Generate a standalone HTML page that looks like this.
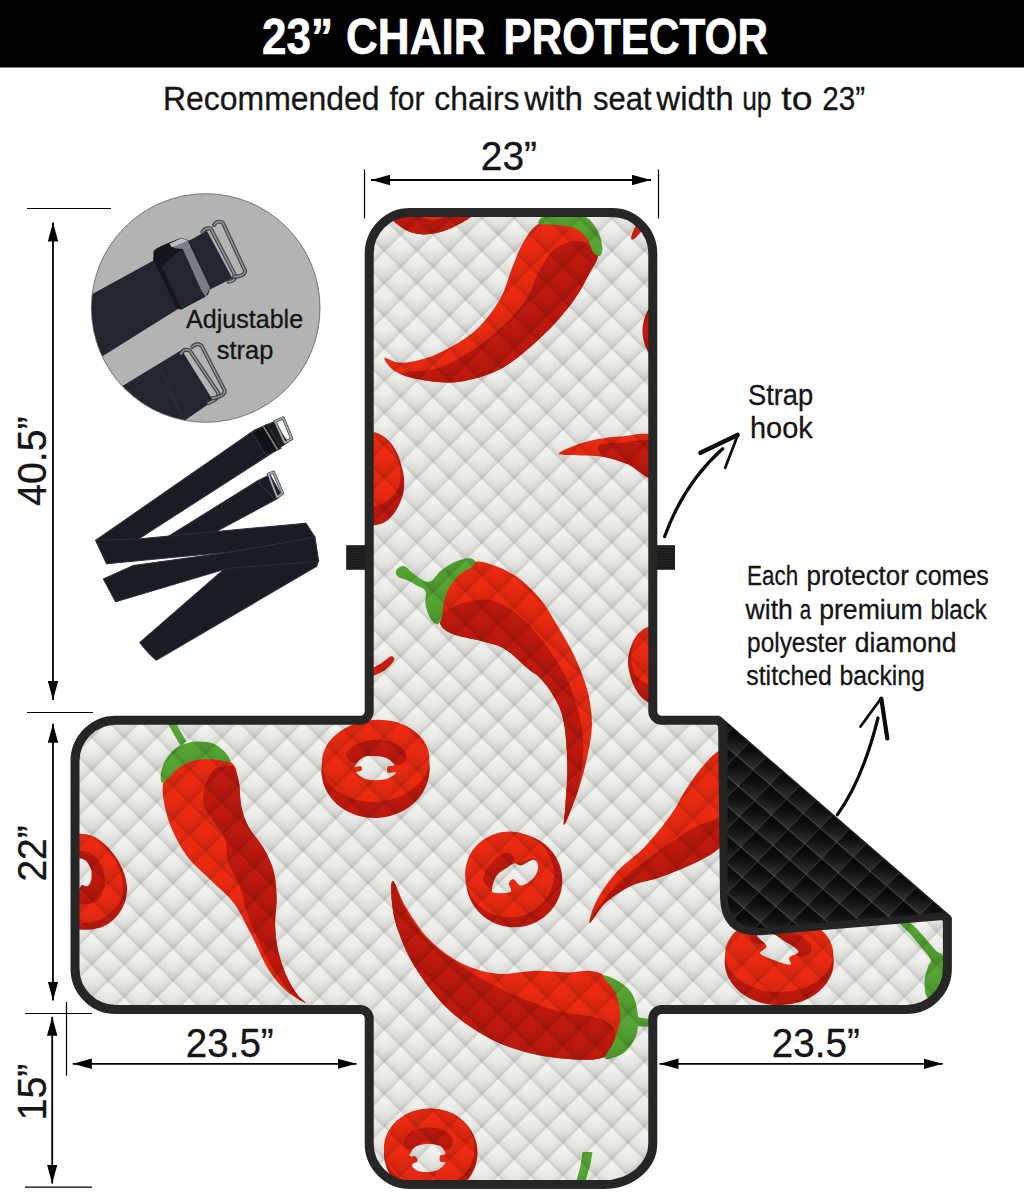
<!DOCTYPE html>
<html><head><meta charset="utf-8"><title>23" Chair Protector</title>
<style>
html,body{margin:0;padding:0;background:#fff}
svg{display:block}
text{font-family:"Liberation Sans",sans-serif;fill:#151515;stroke:#151515;stroke-width:0.3px}
</style></head><body>
<svg width="1024" height="1200" viewBox="0 0 1024 1200">
<defs>
<linearGradient id="qa" x1="0.25" y1="0.25" x2="0.75" y2="0.75"><stop offset="0" stop-color="#000" stop-opacity="0"/>
<stop offset="0.35" stop-color="#000" stop-opacity="0.012"/>
<stop offset="0.6" stop-color="#000" stop-opacity="0.032"/>
<stop offset="0.82" stop-color="#000" stop-opacity="0.066"/>
<stop offset="1" stop-color="#000" stop-opacity="0.15"/></linearGradient>
<linearGradient id="qb" x1="0.75" y1="0.25" x2="0.25" y2="0.75"><stop offset="0" stop-color="#000" stop-opacity="0"/>
<stop offset="0.35" stop-color="#000" stop-opacity="0.012"/>
<stop offset="0.6" stop-color="#000" stop-opacity="0.032"/>
<stop offset="0.82" stop-color="#000" stop-opacity="0.066"/>
<stop offset="1" stop-color="#000" stop-opacity="0.15"/></linearGradient>
<pattern id="quilt" x="400.55" y="252.5" width="32.5" height="32.5" patternUnits="userSpaceOnUse" patternTransform="scale(1 0.998)">
<g fill="url(#qa)"><path d="M16.25,0 L32.5,16.25 L16.25,32.5 L0,16.25Z"/><path d="M0,-16.25 L16.25,0 L0,16.25 L-16.25,0Z"/><path d="M32.5,-16.25 L48.75,0 L32.5,16.25 L16.25,0Z"/><path d="M0,16.25 L16.25,32.5 L0,48.75 L-16.25,32.5Z"/><path d="M32.5,16.25 L48.75,32.5 L32.5,48.75 L16.25,32.5Z"/></g>
<g fill="url(#qb)"><path d="M16.25,0 L32.5,16.25 L16.25,32.5 L0,16.25Z"/><path d="M0,-16.25 L16.25,0 L0,16.25 L-16.25,0Z"/><path d="M32.5,-16.25 L48.75,0 L32.5,16.25 L16.25,0Z"/><path d="M0,16.25 L16.25,32.5 L0,48.75 L-16.25,32.5Z"/><path d="M32.5,16.25 L48.75,32.5 L32.5,48.75 L16.25,32.5Z"/></g>
</pattern>
<linearGradient id="bg" x1="0.6" y1="0" x2="0.4" y2="1">
<stop offset="0" stop-color="#030303"/>
<stop offset="0.45" stop-color="#101010"/>
<stop offset="1" stop-color="#343434"/>
</linearGradient>
<pattern id="bquilt" x="755.4" y="814.9" width="32.0" height="30.5" patternUnits="userSpaceOnUse" patternTransform="rotate(-2.7 771.4 814.9)">
<rect width="32.0" height="30.5" fill="#0a0a0a"/>
<g fill="url(#bg)">
<path d="M16.0,0 L32.0,15.25 L16.0,30.5 L0,15.25Z"/>
<path d="M0,-15.25 L16.0,0 L0,15.25 L-16.0,0Z"/>
<path d="M32.0,-15.25 L48.0,0 L32.0,15.25 L16.0,0Z"/>
<path d="M0,15.25 L16.0,30.5 L0,45.75 L-16.0,30.5Z"/>
<path d="M32.0,15.25 L48.0,30.5 L32.0,45.75 L16.0,30.5Z"/>
</g>
<path d="M-16.0,0 L32.0,45.75 M0,-15.25 L48.0,30.5" stroke="#666" stroke-width="0.9" fill="none"/>
<path d="M32.0,-15.25 L-16.0,30.5 M48.0,0 L0,45.75" stroke="#484848" stroke-width="0.8" fill="none"/>
</pattern>
<clipPath id="cov"><path d="M369.2,253.6 A41,41 0 0 1 410.2,212.6 L611.8,212.6 A41,41 0 0 1 652.8,253.6 L652.8,711.2 A9,9 0 0 0 661.8,720.2 L718.0,720.2 L947.4,919.0 L947.4,968.5 A41,41 0 0 1 906.4,1009.5 L661.8,1009.5 A9,9 0 0 0 652.8,1018.5 L652.8,1143.6 A49,41 0 0 1 603.8,1184.6 L410.2,1184.6 A41,41 0 0 1 369.2,1143.6 L369.2,1018.5 A9,9 0 0 0 360.2,1009.5 L116.0,1009.5 A41,41 0 0 1 75.0,968.5 L75.0,761.2 A41,41 0 0 1 116.0,720.2 L360.2,720.2 A9,9 0 0 0 369.2,711.2 Z"/></clipPath>
<clipPath id="circ"><circle cx="205.7" cy="308" r="114"/></clipPath>
<marker id="ah" markerWidth="19" markerHeight="11" refX="19" refY="5.5" orient="auto-start-reverse" markerUnits="userSpaceOnUse"><path d="M0,0.3 L19,5.5 L0,10.7Z" fill="#000"/></marker>
</defs>
<rect x="0" y="0" width="1024" height="67.5" fill="#000"/>
<text x="262" y="54.3" font-size="49.5" textLength="71" lengthAdjust="spacingAndGlyphs" font-weight="700" style="fill:#fff;stroke:#fff;stroke-width:0.7">23”</text>
<text x="346" y="54.3" font-size="49.5" textLength="139.5" lengthAdjust="spacingAndGlyphs" font-weight="700" style="fill:#fff;stroke:#fff;stroke-width:0.7">CHAIR</text>
<text x="503.5" y="54.3" font-size="49.5" textLength="264.5" lengthAdjust="spacingAndGlyphs" font-weight="700" style="fill:#fff;stroke:#fff;stroke-width:0.7">PROTECTOR</text>
<text x="163" y="109.9" font-size="33" textLength="216.5" lengthAdjust="spacingAndGlyphs" >Recommended</text>
<text x="389.5" y="109.9" font-size="33" textLength="35.0" lengthAdjust="spacingAndGlyphs" >for</text>
<text x="434.3" y="109.9" font-size="33" textLength="85.2" lengthAdjust="spacingAndGlyphs" >chairs</text>
<text x="524.2" y="109.9" font-size="33" textLength="58.8" lengthAdjust="spacingAndGlyphs" >with</text>
<text x="593" y="109.9" font-size="33" textLength="58.6" lengthAdjust="spacingAndGlyphs" >seat</text>
<text x="656.3" y="109.9" font-size="33" textLength="77.3" lengthAdjust="spacingAndGlyphs" >width</text>
<text x="742.2" y="109.9" font-size="33" textLength="29.3" lengthAdjust="spacingAndGlyphs" >up</text>
<text x="781.3" y="109.9" font-size="33" textLength="31.2" lengthAdjust="spacingAndGlyphs" >to</text>
<text x="822.3" y="109.9" font-size="33" textLength="42.9" lengthAdjust="spacingAndGlyphs" >23”</text>
<g clip-path="url(#cov)">
<rect x="60" y="200" width="900" height="1000" fill="#f3f3ef"/>
<clipPath id="pc1"><path d="M393.3,210.9 C381.6,213.7 396.6,223.4 401.5,227.3 C406.4,231.2 414.7,234.1 422.6,234.4 C430.5,234.7 440.8,233 449,229.1 C457.2,225.2 481.1,214 471.8,210.9 C462.5,207.9 405,208.2 393.3,210.9Z"/></clipPath>
<path d="M393.3,210.9 C381.6,213.7 396.6,223.4 401.5,227.3 C406.4,231.2 414.7,234.1 422.6,234.4 C430.5,234.7 440.8,233 449,229.1 C457.2,225.2 481.1,214 471.8,210.9 C462.5,207.9 405,208.2 393.3,210.9Z" fill="#f02b12" />
<g clip-path="url(#pc1)"><path d="M390.4,208 C396.7,204.6 420.2,219.2 431.4,219.7 C442.6,220.2 449.5,212.9 457.8,210.9 C466.1,209 478.3,203.6 481.2,208 C484.1,212.4 490,231.9 475.3,237.3 C460.7,242.7 407.5,245.1 393.3,240.2 C379.1,235.3 384,211.4 390.4,208Z" fill="#c21a0e" /></g>
<clipPath id="pc2"><path d="M384.5,358 C385.5,356.5 393.3,363.4 402.1,362.7 C410.9,362 425,359.3 437.2,353.9 C449.5,348.5 464.8,339.7 475.3,330.5 C485.8,321.3 494.1,309.2 500.2,298.8 C506.3,288.4 508.1,277.6 512,268.1 C515.9,258.5 519,249.2 523.7,241.7 C528.3,234.2 532.2,226.9 539.8,223.2 C547.4,219.6 559.8,217.6 569.1,219.7 C578.4,221.8 590.6,230 595.5,235.8 C600.4,241.7 599.4,248.7 598.4,254.9 C597.4,261.1 593.8,265.3 589.6,273 C585.4,280.8 580.8,290.9 573.2,301.2 C565.6,311.4 555.6,323.5 543.9,334.6 C532.2,345.7 517,359.8 502.9,367.7 C488.8,375.5 472.6,379.7 459.2,381.7 C445.8,383.8 433.1,381.6 422.6,380 C412.1,378.4 402.6,375.7 396.2,372.1 C389.9,368.4 383.5,359.6 384.5,358Z"/></clipPath>
<path d="M384.5,358 C385.5,356.5 393.3,363.4 402.1,362.7 C410.9,362 425,359.3 437.2,353.9 C449.5,348.5 464.8,339.7 475.3,330.5 C485.8,321.3 494.1,309.2 500.2,298.8 C506.3,288.4 508.1,277.6 512,268.1 C515.9,258.5 519,249.2 523.7,241.7 C528.3,234.2 532.2,226.9 539.8,223.2 C547.4,219.6 559.8,217.6 569.1,219.7 C578.4,221.8 590.6,230 595.5,235.8 C600.4,241.7 599.4,248.7 598.4,254.9 C597.4,261.1 593.8,265.3 589.6,273 C585.4,280.8 580.8,290.9 573.2,301.2 C565.6,311.4 555.6,323.5 543.9,334.6 C532.2,345.7 517,359.8 502.9,367.7 C488.8,375.5 472.6,379.7 459.2,381.7 C445.8,383.8 433.1,381.6 422.6,380 C412.1,378.4 402.6,375.7 396.2,372.1 C389.9,368.4 383.5,359.6 384.5,358Z" fill="#f02b12" />
<g clip-path="url(#pc2)"><path d="M569.1,242 C563.2,243.5 556.9,246.4 551.5,251.9 C546.1,257.5 540.8,268.1 536.9,275.4 C533,282.7 532.5,288.6 528.1,295.9 C523.7,303.2 517.3,312 510.5,319.3 C503.7,326.7 495.4,333.5 487.1,339.8 C478.8,346.2 469.5,352.5 460.7,357.4 C451.9,362.3 443.1,366.7 434.3,369.1 C425.5,371.6 414.3,370.6 407.9,372.1 C401.6,373.5 387.9,374.8 396.2,377.9 C404.5,381.1 439.2,391.6 457.8,391.1 C476.3,390.6 491,384 507.6,375 C524.2,366 544.2,350.1 557.4,336.9 C570.6,323.7 578.4,309.1 586.7,295.9 C595,282.7 607.2,266.6 607.2,257.8 C607.2,249 593,245.8 586.7,243.2 C580.3,240.5 575,240.5 569.1,242Z" fill="#c21a0e" /></g>
<path d="M538.6,223.8 C537.4,222.2 540.1,216.5 547.1,215 C554.2,213.6 572.7,212.9 580.8,215 C589,217.2 592.5,222.8 596.1,227.9 C599.6,233 601.5,240.9 602.2,245.5 C602.9,250.1 601.7,254.7 600.2,255.8 C598.6,256.8 595.5,255 593.1,251.9 C590.8,248.9 589.2,241.3 586.1,237.3 C583,233.3 579.6,230 574.4,227.9 C569.1,225.8 560.4,225.4 554.4,224.7 C548.5,224 539.8,225.4 538.6,223.8Z" fill="#57a834" />
<path d="M631.2,239.1 C630.8,238 631.6,234.3 633,231.4 C634.3,228.6 636.1,225.2 639.4,222.1 C642.7,218.9 650.2,212.4 652.6,212.4 C655,212.4 655.7,219.1 654.1,222.1 C652.5,225 646.1,227.6 642.9,230.3 C639.8,232.9 637.3,236.4 635.3,237.9 C633.4,239.4 631.6,240.1 631.2,239.1Z" fill="#d9200f" />
<path d="M652,304.5 C651.1,305.9 648,309.9 646.5,313 C645,316.1 644,319.8 643.3,323 C642.6,326.2 642.4,328.8 642.5,332 C642.6,335.2 643.2,339 644,342 C644.8,345 645.7,347.5 647,350 C648.3,352.5 651.2,355.8 652,357 L665,357 L665,304.5Z" fill="#c21a0e" />
<path d="M368,432.5 C369.7,432.7 374.7,432.2 378,433.5 C381.3,434.8 385,437.1 388,440 C391,442.9 393.8,447 396,451 C398.2,455 399.7,459.5 401,464 C402.3,468.5 403.6,473.3 404,478 C404.4,482.7 404.3,487.5 403.5,492 C402.7,496.5 400.9,501 399,505 C397.1,509 394.7,513 392,516 C389.3,519 387,521.2 383,523 C379,524.8 370.5,525.9 368,526.5 L355,526.5 L355,432.5Z" fill="#c21a0e" />
<path d="M368,432.5 C369.7,432.7 374.8,432.2 378,433.5 C381.2,434.8 384.3,437.2 387,440 C389.7,442.8 392.1,446.3 394,450 C395.9,453.7 397.4,458 398.5,462 C399.6,466 400.4,470 400.5,474 C400.6,478 400.2,482.3 399,486 C397.8,489.7 395.5,493.2 393,496 C390.5,498.8 388.2,501 384,503 C379.8,505 370.7,507.2 368,508 L355,508 L355,432.5Z" fill="#f02b12" />
<clipPath id="pc3"><path d="M558.8,454 C557.9,452.3 568.4,448 575,445.5 C581.6,443 590.6,440.6 598.4,439.1 C606.2,437.5 612.6,436.7 621.8,436.4 C631.1,436.1 648.7,430.3 654.1,437.3 C659.4,444.3 658.5,473.8 654.1,478.3 C649.7,482.8 636,467.8 627.7,464.3 C619.4,460.7 612.1,458.4 604.3,456.9 C596.4,455.5 588.4,456 580.8,455.5 C573.2,455 559.8,455.7 558.8,454Z"/></clipPath>
<path d="M558.8,454 C557.9,452.3 568.4,448 575,445.5 C581.6,443 590.6,440.6 598.4,439.1 C606.2,437.5 612.6,436.7 621.8,436.4 C631.1,436.1 648.7,430.3 654.1,437.3 C659.4,444.3 658.5,473.8 654.1,478.3 C649.7,482.8 636,467.8 627.7,464.3 C619.4,460.7 612.1,458.4 604.3,456.9 C596.4,455.5 588.4,456 580.8,455.5 C573.2,455 559.8,455.7 558.8,454Z" fill="#f02b12" />
<g clip-path="url(#pc3)"><path d="M598.4,445.5 C601.3,443.1 612.6,443 621.8,442.6 C631.1,442.2 648.7,437.2 654.1,443.2 C659.4,449.1 658.5,474.8 654.1,478.3 C649.7,481.8 636,467.8 627.7,464.3 C619.4,460.7 609.1,460.1 604.3,456.9 C599.4,453.8 595.5,447.9 598.4,445.5Z" fill="#c21a0e" /></g>
<clipPath id="pc4"><path d="M440.8,598.6 C442.8,590.8 446.6,581.3 451.9,575.2 C457.2,569.1 465.6,563.7 472.4,562 C479.2,560.3 485.6,562.5 492.9,564.9 C500.2,567.3 508.5,571 516.4,576.6 C524.2,582.2 532.7,590.1 539.8,598.6 C546.9,607.1 553.2,618.6 558.8,627.9 C564.5,637.2 569.2,645.5 573.5,654.3 C577.7,663.1 581.6,672.3 584.3,680.6 C587.1,688.9 589,695.3 590.2,704.1 C591.4,712.9 592.7,721.2 591.4,733.4 C590,745.6 585.9,764 582.3,777.3 C578.7,790.6 572.8,805.2 569.7,813.1 C566.6,821 564.6,825.8 563.8,824.8 C563.1,823.8 564.7,817.5 565.3,807.2 C565.9,797 567.7,777.9 567.3,763.3 C567,748.6 565.6,730.6 563.2,719.3 C560.8,708 556.9,702.2 553,695.3 C549.1,688.4 543.9,682.1 539.8,677.7 C535.6,673.3 533.9,673.7 528.1,668.9 C522.2,664.1 512.5,653.6 504.6,649 C496.8,644.4 490,643.6 481.2,641.1 C472.4,638.5 458.8,636.9 451.9,633.8 C445,630.6 441.4,627.9 439.6,622 C437.7,616.2 438.7,606.4 440.8,598.6Z"/></clipPath>
<path d="M440.8,598.6 C442.8,590.8 446.6,581.3 451.9,575.2 C457.2,569.1 465.6,563.7 472.4,562 C479.2,560.3 485.6,562.5 492.9,564.9 C500.2,567.3 508.5,571 516.4,576.6 C524.2,582.2 532.7,590.1 539.8,598.6 C546.9,607.1 553.2,618.6 558.8,627.9 C564.5,637.2 569.2,645.5 573.5,654.3 C577.7,663.1 581.6,672.3 584.3,680.6 C587.1,688.9 589,695.3 590.2,704.1 C591.4,712.9 592.7,721.2 591.4,733.4 C590,745.6 585.9,764 582.3,777.3 C578.7,790.6 572.8,805.2 569.7,813.1 C566.6,821 564.6,825.8 563.8,824.8 C563.1,823.8 564.7,817.5 565.3,807.2 C565.9,797 567.7,777.9 567.3,763.3 C567,748.6 565.6,730.6 563.2,719.3 C560.8,708 556.9,702.2 553,695.3 C549.1,688.4 543.9,682.1 539.8,677.7 C535.6,673.3 533.9,673.7 528.1,668.9 C522.2,664.1 512.5,653.6 504.6,649 C496.8,644.4 490,643.6 481.2,641.1 C472.4,638.5 458.8,636.9 451.9,633.8 C445,630.6 441.4,627.9 439.6,622 C437.7,616.2 438.7,606.4 440.8,598.6Z" fill="#f02b12" />
<g clip-path="url(#pc4)"><path d="M449,609.1 C454.3,605.3 459.7,603.6 466.5,602.1 C473.4,600.6 481.7,598.2 490,600.1 C498.3,601.9 507.6,606.4 516.4,613.2 C525.1,620.1 534.4,630.3 542.7,641.1 C551,651.8 560.1,665.3 566.2,677.7 C572.3,690.2 576.5,703.6 579.4,715.8 C582.2,728 583.3,738.7 583.2,751 C583,763.2 580.8,778.3 578.5,789 C576.1,799.8 571.5,809.5 569.1,815.4 C566.7,821.4 565.8,826.2 563.8,824.8 C561.9,823.4 558.5,817.5 557.4,807.2 C556.3,797 557.9,777.9 557.4,763.3 C556.9,748.6 556.4,730.6 554.4,719.3 C552.5,708 550.1,703.7 545.7,695.3 C541.3,686.9 534.9,675.8 528.1,668.9 C521.2,662.1 512.5,658.2 504.6,654.3 C496.8,650.4 490.5,647.9 481.2,645.5 C471.9,643 456.8,643 449,639.6 C441.2,636.2 434.3,630 434.3,625 C434.3,619.9 443.6,613 449,609.1Z" fill="#c21a0e" /></g>
<path d="M395.6,572.8 C395.5,571.2 397,568.9 398.6,567.8 C400.1,566.8 402.7,565.5 405,566.4 C407.3,567.2 409.2,570.4 412.3,572.8 C415.5,575.3 420.8,579.7 424.1,581 C427.3,582.3 429.2,582.1 432,580.4 C434.8,578.7 437,573.8 440.8,570.8 C444.6,567.7 450.3,564.1 454.8,562 C459.4,559.9 464.7,558.4 468,558.2 C471.3,557.9 474,559.1 474.8,560.5 C475.5,561.9 474.8,564.2 472.4,566.4 C470.1,568.6 464.5,570.3 460.7,573.7 C456.9,577.1 452.4,582 449.6,586.9 C446.7,591.8 445,597.6 443.7,603 C442.4,608.4 442.8,615.5 441.6,619.1 C440.5,622.7 438.6,624.6 436.7,624.4 C434.7,624.1 431.8,621 429.9,617.6 C428.1,614.3 426.3,608.9 425.5,604.5 C424.8,600.1 426.8,594.3 425.5,591.3 C424.3,588.2 421.1,588.1 418.2,586.3 C415.3,584.5 411.1,581.9 407.9,580.4 C404.8,579 401.2,578.8 399.2,577.5 C397.1,576.2 395.7,574.4 395.6,572.8Z" fill="#57a834" />
<path d="M368.4,671.3 C370.6,668.9 377.9,665.5 381.6,663.1 C385.2,660.6 388.3,657.5 390.4,656.6 C392.4,655.7 393.4,657 393.9,657.8 C394.4,658.6 394.9,659.5 393.3,661.6 C391.7,663.7 388.7,667.8 384.5,670.4 C380.4,673 371.1,677 368.4,677.1 C365.7,677.3 366.2,673.6 368.4,671.3Z" fill="#d9200f" />
<path d="M652,626 C650.7,626.5 646.7,627.2 644,629 C641.3,630.8 638.2,633.3 636,636.5 C633.8,639.7 631.8,644.1 630.5,648 C629.2,651.9 628.2,655.8 628,660 C627.8,664.2 628.5,668.7 629.5,673 C630.5,677.3 632.1,682 634,686 C635.9,690 638,693.8 641,697 C644,700.2 650.2,703.7 652,705 L665,705 L665,626Z" fill="#c21a0e" />
<path d="M652,626 C650.7,626.5 646.5,627.2 644,629 C641.5,630.8 638.9,633.5 637,636.5 C635.1,639.5 633.5,643.4 632.5,647 C631.5,650.6 630.9,654.3 631,658 C631.1,661.7 631.7,665.5 633,669 C634.3,672.5 635.8,676.2 639,679 C642.2,681.8 649.8,684.8 652,686 L665,686 L665,626Z" fill="#f02b12" />
<clipPath id="pc5"><path d="M589.7,922.9 C588.3,922.5 592.3,908.8 596.8,900.3 C601.3,891.8 608.6,880.9 616.7,872 C624.7,863 636,855.9 645,846.5 C654,837 663.4,825.2 670.5,815.3 C677.6,805.4 681.8,795.5 687.5,787 C693.1,778.5 698.8,770.7 704.5,764.3 C710.1,757.9 712.5,754.9 721.5,748.7 C730.4,742.6 749.3,719.2 758.3,727.5 C767.3,735.7 775.3,780.8 775.3,798.3 C775.3,815.8 767,824.3 758.3,832.3 C749.6,840.3 730.9,842.7 722.9,846.5 C714.9,850.2 716,851.7 710.1,855 C704.2,858.3 696,862.5 687.5,866.3 C679,870.1 668.6,874.3 659.2,877.6 C649.7,880.9 639.8,881.9 630.8,886.1 C621.9,890.4 612.2,897 605.3,903.1 C598.5,909.3 591.2,923.4 589.7,922.9Z"/></clipPath>
<path d="M589.7,922.9 C588.3,922.5 592.3,908.8 596.8,900.3 C601.3,891.8 608.6,880.9 616.7,872 C624.7,863 636,855.9 645,846.5 C654,837 663.4,825.2 670.5,815.3 C677.6,805.4 681.8,795.5 687.5,787 C693.1,778.5 698.8,770.7 704.5,764.3 C710.1,757.9 712.5,754.9 721.5,748.7 C730.4,742.6 749.3,719.2 758.3,727.5 C767.3,735.7 775.3,780.8 775.3,798.3 C775.3,815.8 767,824.3 758.3,832.3 C749.6,840.3 730.9,842.7 722.9,846.5 C714.9,850.2 716,851.7 710.1,855 C704.2,858.3 696,862.5 687.5,866.3 C679,870.1 668.6,874.3 659.2,877.6 C649.7,880.9 639.8,881.9 630.8,886.1 C621.9,890.4 612.2,897 605.3,903.1 C598.5,909.3 591.2,923.4 589.7,922.9Z" fill="#f02b12" />
<g clip-path="url(#pc5)"><path d="M735.6,804 C728.1,800.7 725.3,814.4 718.6,818.1 C712,821.9 703.5,822.9 696,826.6 C688.4,830.4 680.4,836.1 673.3,840.8 C666.2,845.5 660.6,849.8 653.5,855 C646.4,860.2 638.4,865.3 630.8,872 C623.3,878.6 615,886.1 608.2,894.6 C601.3,903.1 588.3,921.1 589.7,922.9 C591.2,924.8 605.1,912.6 616.7,905.9 C628.2,899.3 643.6,890.8 659.2,883.3 C674.7,875.7 692.7,868.2 710.1,860.6 C727.6,853.1 759.7,847.4 764,838 C768.2,828.5 743.2,807.3 735.6,804Z" fill="#c21a0e" /></g>
<ellipse cx="375.6" cy="769.7" rx="54.2" ry="48.3" fill="#c21a0e" transform="rotate(-5 375.6 769.7)"/>
<ellipse cx="375.6" cy="760.9" rx="53.9" ry="41" fill="#f02b12" transform="rotate(-5 375.6 760.9)"/>
<path d="M346.3,753.9 C347,750.6 352.6,745.7 358.6,743.3 C364.6,741 375,739.2 382,739.8 C389.1,740.4 397.1,744 401.1,747.1 C405.1,750.3 406.8,755.9 406.1,758.9 C405.3,761.8 401.9,764.7 396.7,764.7 C391.5,764.7 381.8,759.1 374.7,758.9 C367.6,758.6 358.9,764.1 354.2,763.2 C349.5,762.4 345.6,757.2 346.3,753.9Z" fill="#c21a0e" />
<path d="M354.5,766.8 C354.8,765.3 359.6,759.1 363,757.4 C366.4,755.6 370.8,756.1 374.7,756.2 C378.6,756.3 383.2,756.5 386.4,758 C389.7,759.4 394.1,763.5 394.3,765 C394.6,766.5 389,765.5 387.9,766.8 C386.8,768 386.5,771.6 387.9,772.6 C389.3,773.6 396.1,771.6 396.1,772.6 C396.1,773.6 391.5,777.2 387.9,778.5 C384.3,779.8 378.9,780.3 374.7,780.2 C370.6,780.1 366.1,779.2 363,777.9 C359.9,776.6 356.5,773.8 356.3,772.6 C356,771.4 360.7,771.6 361.5,770.6 C362.3,769.5 362.1,766.8 360.9,766.2 C359.8,765.5 354.2,768.2 354.5,766.8Z" fill="#f3f3ef" />
<ellipse cx="514.2" cy="880.4" rx="48.1" ry="46.9" fill="#c21a0e"/>
<ellipse cx="509.5" cy="874.5" rx="44.5" ry="43.1" fill="#f02b12"/>
<path d="M483.1,880.1 C482.5,875.7 487,867.9 490.8,863.4 C494.5,858.8 501.5,853.8 505.4,852.8 C509.3,851.8 513.3,855.3 514.2,857.5 C515.1,859.7 509.8,865.4 510.7,866.3 C511.6,867.2 515.4,864 519.5,862.8 C523.6,861.5 533.6,857.3 535.3,858.7 C536.9,860.1 534.3,868.5 529.4,871.3 C524.5,874 511.8,872 506,875.1 C500.2,878.2 498.7,888.9 494.9,889.7 C491,890.6 483.8,884.5 483.1,880.1Z" fill="#c21a0e" />
<path d="M491.9,890.3 C491.8,887.4 494,879.5 496.6,875.7 C499.2,871.9 504.5,869.5 507.5,867.5 C510.4,865.4 511.9,863.7 514.2,863.4 C516.5,863 518,866 521.2,865.4 C524.4,864.8 530.7,859.6 533.5,859.8 C536.4,860.1 538.2,863.9 538.2,866.9 C538.2,869.9 536.4,874.9 533.5,878 C530.7,881.1 524.5,885.4 521.2,885.6 C517.9,885.8 515.7,879.6 513.6,879.2 C511.6,878.8 509.4,881.2 508.9,883.3 C508.4,885.3 512.6,889.8 510.7,891.5 C508.7,893.2 500.3,893.4 497.2,893.2 C494.1,893.1 492,893.2 491.9,890.3Z" fill="#f3f3ef" />
<clipPath id="pc6"><path d="M393.2,880.9 C395.6,882.3 400.3,898 406.4,907.9 C412.5,917.8 420.5,930.9 429.8,940.1 C439.1,949.4 450.8,958 462,963.6 C473.3,969.2 485.5,972.6 497.2,973.8 C508.9,975 520.6,971.1 532.4,970.9 C544.1,970.6 557.8,972.4 567.5,972.4 C577.3,972.4 584.6,970.2 591,970.9 C597.3,971.6 600.7,972.6 605.6,976.8 C610.5,980.9 617.3,988.7 620.3,995.8 C623.2,1002.9 624.2,1010.9 623.2,1019.2 C622.2,1027.5 617.3,1039.4 614.4,1045.6 C611.5,1051.9 611.5,1054.4 605.6,1056.7 C599.7,1059.1 591.4,1060.2 579.2,1059.7 C567,1059.2 547.5,1057.5 532.4,1053.8 C517.2,1050.1 502.6,1045.3 488.4,1037.7 C474.2,1030.1 459.6,1020.1 447.4,1008.4 C435.2,996.7 423.5,980.6 415.2,967.4 C406.9,954.2 401.5,940.5 397.6,929.3 C393.7,918.1 392.5,908 391.7,900 C391,891.9 390.7,879.6 393.2,880.9Z"/></clipPath>
<path d="M393.2,880.9 C395.6,882.3 400.3,898 406.4,907.9 C412.5,917.8 420.5,930.9 429.8,940.1 C439.1,949.4 450.8,958 462,963.6 C473.3,969.2 485.5,972.6 497.2,973.8 C508.9,975 520.6,971.1 532.4,970.9 C544.1,970.6 557.8,972.4 567.5,972.4 C577.3,972.4 584.6,970.2 591,970.9 C597.3,971.6 600.7,972.6 605.6,976.8 C610.5,980.9 617.3,988.7 620.3,995.8 C623.2,1002.9 624.2,1010.9 623.2,1019.2 C622.2,1027.5 617.3,1039.4 614.4,1045.6 C611.5,1051.9 611.5,1054.4 605.6,1056.7 C599.7,1059.1 591.4,1060.2 579.2,1059.7 C567,1059.2 547.5,1057.5 532.4,1053.8 C517.2,1050.1 502.6,1045.3 488.4,1037.7 C474.2,1030.1 459.6,1020.1 447.4,1008.4 C435.2,996.7 423.5,980.6 415.2,967.4 C406.9,954.2 401.5,940.5 397.6,929.3 C393.7,918.1 392.5,908 391.7,900 C391,891.9 390.7,879.6 393.2,880.9Z" fill="#f02b12" />
<g clip-path="url(#pc6)"><path d="M393.2,880.9 C396.1,882.3 399,898.1 404.6,907.9 C410.2,917.7 418.2,930.5 426.9,939.5 C435.6,948.6 446,955 456.8,962.4 C467.5,969.8 479.7,977.8 491.3,984.1 C503,990.4 514.8,995.6 526.5,1000.2 C538.2,1004.8 549.9,1009 561.7,1011.9 C573.4,1014.8 588,1014.6 596.8,1017.8 C605.6,1020.9 612,1023.4 614.4,1031 C616.8,1038.5 617.3,1057.4 611.5,1063.2 C605.6,1069 592.4,1066.1 579.2,1065.5 C566.1,1064.9 547.5,1063.3 532.4,1059.7 C517.2,1056 503.1,1051.1 488.4,1043.6 C473.8,1036 457.6,1026.5 444.5,1014.3 C431.3,1002 418.1,984.5 409.3,970.3 C400.5,956.1 395.4,941 391.7,929.3 C388.1,917.6 387.1,908 387.3,900 C387.6,891.9 390.3,879.6 393.2,880.9Z" fill="#c21a0e" /></g>
<path d="M603.3,976.2 C603.5,974 612.5,977.6 617.3,980.6 C622.1,983.5 628.6,988.1 632,993.7 C635.4,999.4 637.1,1007.4 637.8,1014.3 C638.6,1021.1 638.3,1028.7 636.4,1034.8 C634.4,1040.9 630.3,1047 626.1,1050.9 C622,1054.8 615,1057.1 611.5,1058.2 C608,1059.3 604.5,1060.3 605,1057.3 C605.5,1054.4 611.9,1047.3 614.4,1040.6 C616.9,1033.9 620,1025 620.3,1017.2 C620.5,1009.4 618.7,1000.6 615.9,993.7 C613,986.9 603,978.4 603.3,976.2Z" fill="#57a834" />
<path d="M635.5,1016.9 L654,1019.8 L654,1026.9 L635.5,1026Z" fill="#57a834" />
<clipPath id="pc7"><path d="M163.2,783.2 C162.2,788.6 162.4,793.5 163.8,800.8 C165.1,808.2 167.2,817.9 171.1,827.2 C175,836.5 180.6,847.7 187.2,856.5 C193.8,865.3 202.8,872.1 210.6,879.9 C218.5,887.8 227.2,894.1 234.1,903.4 C240.9,912.7 245.8,924.4 251.7,935.6 C257.5,946.8 263.4,961.5 269.2,970.8 C275.1,980 280.7,985.9 286.8,991.3 C292.9,996.6 304.2,1002.5 305.9,1003 C307.6,1003.5 300.2,998.6 297.1,994.2 C293.9,989.8 290,984 286.8,976.6 C283.6,969.3 280,959 278,950.3 C276.1,941.5 275.3,932.7 275.1,923.9 C274.9,915.1 276.8,906.3 276.6,897.5 C276.3,888.7 275.8,879.5 273.6,871.1 C271.4,862.8 267.5,855 263.4,847.7 C259.2,840.4 252.4,834 248.7,827.2 C245.1,820.4 243.1,814.5 241.4,806.7 C239.7,798.9 240.4,787.9 238.5,780.3 C236.5,772.8 236.3,765.2 229.7,761.3 C223.1,757.4 208.9,755.7 198.9,756.9 C188.9,758.1 175.6,764.2 169.6,768.6 C163.7,773 164.1,777.9 163.2,783.2Z"/></clipPath>
<path d="M163.2,783.2 C162.2,788.6 162.4,793.5 163.8,800.8 C165.1,808.2 167.2,817.9 171.1,827.2 C175,836.5 180.6,847.7 187.2,856.5 C193.8,865.3 202.8,872.1 210.6,879.9 C218.5,887.8 227.2,894.1 234.1,903.4 C240.9,912.7 245.8,924.4 251.7,935.6 C257.5,946.8 263.4,961.5 269.2,970.8 C275.1,980 280.7,985.9 286.8,991.3 C292.9,996.6 304.2,1002.5 305.9,1003 C307.6,1003.5 300.2,998.6 297.1,994.2 C293.9,989.8 290,984 286.8,976.6 C283.6,969.3 280,959 278,950.3 C276.1,941.5 275.3,932.7 275.1,923.9 C274.9,915.1 276.8,906.3 276.6,897.5 C276.3,888.7 275.8,879.5 273.6,871.1 C271.4,862.8 267.5,855 263.4,847.7 C259.2,840.4 252.4,834 248.7,827.2 C245.1,820.4 243.1,814.5 241.4,806.7 C239.7,798.9 240.4,787.9 238.5,780.3 C236.5,772.8 236.3,765.2 229.7,761.3 C223.1,757.4 208.9,755.7 198.9,756.9 C188.9,758.1 175.6,764.2 169.6,768.6 C163.7,773 164.1,777.9 163.2,783.2Z" fill="#f02b12" />
<g clip-path="url(#pc7)"><path d="M216.5,768.6 C210.9,771 208.4,777.4 206.2,783.2 C204,789.1 202.1,797.4 203.3,803.8 C204.5,810.1 209.9,815.5 213.6,821.3 C217.2,827.2 222.8,832.1 225.3,838.9 C227.7,845.8 225.8,854.5 228.2,862.4 C230.7,870.2 237,878 239.9,885.8 C242.9,893.6 242.9,900.4 245.8,909.2 C248.7,918 253.1,928.8 257.5,938.5 C261.9,948.3 266.8,959 272.2,967.8 C277.5,976.6 284.1,985.4 289.7,991.3 C295.4,997.1 303.4,1005.9 305.9,1003 C308.3,1000.1 307.6,988.3 304.4,973.7 C301.2,959 290.7,934.6 286.8,915.1 C282.9,895.6 285.8,871.1 281,856.5 C276.1,841.8 263.4,837 257.5,827.2 C251.7,817.4 248.7,807.7 245.8,797.9 C242.9,788.1 244.8,773.5 239.9,768.6 C235.1,763.7 222.1,766.2 216.5,768.6Z" fill="#c21a0e" /></g>
<path d="M162,782.7 C160.6,781.8 160.3,775.6 161.1,771.5 C161.9,767.5 163.8,762.5 166.7,758.3 C169.6,754.2 173.5,749.4 178.4,746.6 C183.3,743.8 190.1,742.1 196,741.6 C201.8,741.2 208.7,741.9 213.6,743.7 C218.5,745.5 222.6,749.5 225.3,752.5 C228,755.5 231.4,760.6 230,761.9 C228.5,763.1 221.7,760.2 216.5,759.8 C211.3,759.5 204.8,758.8 198.9,759.8 C193.1,760.8 186.2,762.8 181.3,765.7 C176.5,768.5 172.8,774 169.6,776.8 C166.4,779.6 163.4,783.5 162,782.7Z" fill="#57a834" />
<path d="M166.7,721.7 L174.9,721.7 L186.3,741.6 L180.5,745.7Z" fill="#57a834" />
<path d="M76,833.5 C77.7,833.7 82.7,833.8 86,834.5 C89.3,835.2 92.7,836.2 96,838 C99.3,839.8 102.8,842.5 106,845.5 C109.2,848.5 112.3,852.2 115,856 C117.7,859.8 120.2,864 122,868 C123.8,872 125.2,876.2 126,880 C126.8,883.8 127.2,887.3 127,891 C126.8,894.7 126.2,898.5 125,902 C123.8,905.5 122.2,908.8 120,912 C117.8,915.2 115,918.5 112,921 C109,923.5 105.7,925.6 102,927 C98.3,928.4 94.3,929.1 90,929.5 C85.7,929.9 78.3,929.5 76,929.5 L60,929.5 L60,833.5Z" fill="#c21a0e" />
<path d="M76,833.5 C77.7,833.7 82.7,833.8 86,834.5 C89.3,835.2 92.8,836.2 96,838 C99.2,839.8 102.2,842.5 105,845.5 C107.8,848.5 110.7,852.2 113,856 C115.3,859.8 117.4,864 119,868 C120.6,872 121.8,876.2 122.5,880 C123.2,883.8 123.3,887.5 123,891 C122.7,894.5 121.8,898 120.5,901 C119.2,904 117.2,906.5 115,909 C112.8,911.5 109.8,914.1 107,916 C104.2,917.9 101.2,919.4 98,920.5 C94.8,921.6 91.7,922.2 88,922.5 C84.3,922.8 78,922.5 76,922.5 L60,922.5 L60,833.5Z" fill="#f02b12" />
<path d="M76,850 C78.3,850.5 86.2,851.2 90,853 C93.8,854.8 96.7,857.7 99,861 C101.3,864.3 103.1,868.8 104,873 C104.9,877.2 105.2,882 104.5,886 C103.8,890 102.1,894.2 100,897 C97.9,899.8 96,901.7 92,903 C88,904.3 78.7,904.7 76,905 L60,905 L60,850Z" fill="#c21a0e" />
<path d="M76,858 C77.5,858.3 82.6,858.3 85,860 C87.4,861.7 89.4,865 90.5,868 C91.6,871 91.9,875 91.5,878 C91.1,881 89.6,884.8 88,886 C86.4,887.2 83.5,884.5 82,885 C80.5,885.5 80,888.3 79,889 C78,889.7 76.5,889 76,889 L60,889 L60,858Z" fill="#f3f3ef" />
<ellipse cx="779.2" cy="961.6" rx="54.6" ry="43.7" fill="#c21a0e"/>
<ellipse cx="779.2" cy="954" rx="54.1" ry="38.1" fill="#f02b12"/>
<path d="M750.8,933.6 C754.2,931.1 767.7,928.1 776.2,928.6 C784.6,929 795.6,932.8 801.6,936.2 C807.5,939.6 811.7,945.5 811.7,948.9 C811.7,952.3 807.5,957.3 801.6,956.5 C795.6,955.6 783.8,945.9 776.2,943.8 C768.6,941.7 760.1,945.5 755.9,943.8 C751.6,942.1 747.4,936.2 750.8,933.6Z" fill="#c21a0e" />
<path d="M757.1,934.9 C756.2,936.9 766,943.2 766.5,946.3 C767.1,949.4 758.8,951 760.4,953.4 C762,955.9 771.2,959.2 776.2,961.1 C781.2,962.9 788.2,965.2 790.4,964.6 C792.6,964 788,959.7 789.4,957.5 C790.7,955.3 799.5,954.2 798.5,951.4 C797.6,948.6 788.2,943.6 783.8,940.8 C779.4,937.9 776.8,935.1 772.4,934.1 C767.9,933.2 758.1,932.9 757.1,934.9Z" fill="#f3f3ef" />
<path d="M898.1,920.9 C898.2,919.2 906.5,920.9 910.8,923.5 C915,926 919.2,931.6 923.5,936.2 C927.7,940.8 932.9,947.5 936.2,950.9 C939.5,954.3 941.4,951.3 943.3,956.5 C945.2,961.7 948.6,975.5 947.6,981.9 C946.6,988.2 940.8,992 937.4,994.6 C934,997.2 929.4,999.7 927.3,997.6 C925.1,995.5 924.4,987.1 924.5,981.9 C924.6,976.7 927,970.4 928,966.7 C929.1,962.9 931.8,962.8 930.6,959.5 C929.4,956.2 924.3,951.1 920.9,946.8 C917.5,942.6 914.1,938.5 910.3,934.1 C906.4,929.8 898,922.7 898.1,920.9Z" fill="#57a834" />
<ellipse cx="430.7" cy="1152.8" rx="46.8" ry="44.3" fill="#c21a0e"/>
<ellipse cx="429.3" cy="1148.6" rx="45.4" ry="40.1" fill="#f02b12"/>
<path d="M403.3,1145 C403,1142.4 406.2,1135.7 410.3,1132.7 C414.4,1129.8 422,1127.8 427.9,1127.5 C433.8,1127.2 441.3,1128.6 445.5,1131 C449.7,1133.3 453.2,1138.3 453.2,1141.5 C453.2,1144.8 449.7,1150.3 445.5,1150.3 C441.3,1150.3 433.5,1141.8 427.9,1141.5 C422.3,1141.2 416.2,1148 412.1,1148.6 C408,1149.2 403.6,1147.7 403.3,1145Z" fill="#c21a0e" />
<path d="M409.6,1155.6 C409.6,1154 412.6,1148.7 415.6,1146.8 C418.6,1144.9 423.8,1144.1 427.9,1144 C432,1143.9 437.3,1144.5 440.2,1146.1 C443.1,1147.7 445.5,1152.3 445.5,1153.8 C445.5,1155.4 441.1,1154.3 440.2,1155.6 C439.3,1156.9 439.3,1160.4 440.2,1161.6 C441.1,1162.7 445.8,1161.3 445.5,1162.6 C445.2,1164 441.7,1168.1 438.5,1169.7 C435.2,1171.2 430,1172.1 426.1,1172.1 C422.3,1172.1 417.9,1171 415.6,1169.7 C413.3,1168.4 411.8,1165.7 412.1,1164.4 C412.4,1163 416.8,1162.9 417.4,1161.6 C417.9,1160.3 416.9,1157.6 415.6,1156.7 C414.3,1155.7 409.6,1157.2 409.6,1155.6Z" fill="#f3f3ef" />
<path d="M582.6,1152.1 L592.5,1152.1 L590.4,1164.4 L584.7,1183.7 L575.6,1183.7 L580.5,1166.1Z" fill="#57a834" />
<rect x="60" y="200" width="900" height="1000" fill="url(#quilt)" filter="url(#soft)"/>
</g>
<g fill="#1b1b1b"><rect x="346.2" y="545.2" width="19" height="24.6"/><rect x="657" y="545.2" width="18" height="24.6"/></g><g stroke="#2e2e2e" stroke-width="0.6"><path d="M346.5,547.5H364 M658,547.5H674.7"/><path d="M346.5,550.1H364 M658,550.1H674.7"/><path d="M346.5,552.7H364 M658,552.7H674.7"/><path d="M346.5,555.3H364 M658,555.3H674.7"/><path d="M346.5,557.9H364 M658,557.9H674.7"/><path d="M346.5,560.5H364 M658,560.5H674.7"/><path d="M346.5,563.1H364 M658,563.1H674.7"/><path d="M346.5,565.7H364 M658,565.7H674.7"/><path d="M346.5,568.3H364 M658,568.3H674.7"/></g>
<path d="M369.2,253.6 A41,41 0 0 1 410.2,212.6 L611.8,212.6 A41,41 0 0 1 652.8,253.6 L652.8,711.2 A9,9 0 0 0 661.8,720.2 L718.0,720.2 L947.4,919.0 L947.4,968.5 A41,41 0 0 1 906.4,1009.5 L661.8,1009.5 A9,9 0 0 0 652.8,1018.5 L652.8,1143.6 A49,41 0 0 1 603.8,1184.6 L410.2,1184.6 A41,41 0 0 1 369.2,1143.6 L369.2,1018.5 A9,9 0 0 0 360.2,1009.5 L116.0,1009.5 A41,41 0 0 1 75.0,968.5 L75.0,761.2 A41,41 0 0 1 116.0,720.2 L360.2,720.2 A9,9 0 0 0 369.2,711.2 Z" fill="none" stroke="#262626" stroke-width="9" stroke-linejoin="round"/>
<path d="M718,715.5 L952.2,919.2 L764,935 Q721,939 720,897 Z" fill="#242424"/>
<path d="M724,721 L948.5,916 L944,912.5 L766,927.5 Q729,931 727.5,897 L727.5,724.5 Z" fill="url(#bquilt)"/>
<g stroke="#000" stroke-width="1.2" fill="none">
<path d="M364.5,169.5V218.5 M658.5,169.5V218.5"/>
<path d="M27,208.5H111 M27,712.5H93 M25,1013.5H92 M25,1187.2H92 M66.5,1002V1075.8"/>
</g>
<g stroke="#000" stroke-width="1.8" fill="none" marker-start="url(#ah)" marker-end="url(#ah)">
<path d="M371,180H651"/>
<path d="M53,222.5V700"/>
<path d="M53,723.8V1000.6"/>
<path d="M52.2,1016.8V1183.6"/>
<path d="M72.8,1063.8H356.5"/>
<path d="M659.5,1063.8H942.7"/>
</g>
<g stroke="#0a0a0a" stroke-width="3.2" fill="none" stroke-linecap="round" stroke-linejoin="round">
<path d="M664.6,536.6 Q683.7,483.4 722.7,448.7"/>
<path d="M700.5,452.8 L737.5,435" stroke-width="4.6"/>
<path d="M738,434.6 L725.2,467.8" stroke-width="2.7"/>
<path d="M837.3,814.7 Q862.4,780.3 878,718"/>
<path d="M860.5,726.5 L881,698.5" stroke-width="2.8"/>
<path d="M881.3,698.5 L887.3,738.5" stroke-width="4.2"/>
</g>
<text x="480.8" y="169.8" font-size="40" textLength="56.2" lengthAdjust="spacingAndGlyphs" >23”</text>
<text x="185.8" y="1057" font-size="40" textLength="87.9" lengthAdjust="spacingAndGlyphs" >23.5”</text>
<text x="771.8" y="1057" font-size="40" textLength="88.0" lengthAdjust="spacingAndGlyphs" >23.5”</text>
<text transform="translate(45.6,461.2) rotate(-90)" font-size="40.5" text-anchor="middle" textLength="89.5" lengthAdjust="spacingAndGlyphs">40.5”</text>
<text transform="translate(45.6,853.5) rotate(-90)" font-size="40.5" text-anchor="middle" textLength="56.2" lengthAdjust="spacingAndGlyphs">22”</text>
<text transform="translate(45.6,1092) rotate(-90)" font-size="40.5" text-anchor="middle" textLength="57" lengthAdjust="spacingAndGlyphs">15”</text>
<text x="748" y="404.9" font-size="29.5" textLength="65.2" lengthAdjust="spacingAndGlyphs" >Strap</text>
<text x="750" y="438" font-size="29.5" textLength="62.7" lengthAdjust="spacingAndGlyphs" >hook</text>
<text x="747" y="585" font-size="27" textLength="51.1" lengthAdjust="spacingAndGlyphs" >Each</text>
<text x="806.5" y="585" font-size="27" textLength="102.4" lengthAdjust="spacingAndGlyphs" >protector</text>
<text x="915.2" y="585" font-size="27" textLength="73.7" lengthAdjust="spacingAndGlyphs" >comes</text>
<text x="745.6" y="618.5" font-size="27" textLength="47.2" lengthAdjust="spacingAndGlyphs" >with</text>
<text x="799.7" y="618.5" font-size="27" textLength="11.4" lengthAdjust="spacingAndGlyphs" >a</text>
<text x="819.2" y="618.5" font-size="27" textLength="103.6" lengthAdjust="spacingAndGlyphs" >premium</text>
<text x="930.5" y="618.5" font-size="27" textLength="56.3" lengthAdjust="spacingAndGlyphs" >black</text>
<text x="747.1" y="651.5" font-size="27" textLength="99.0" lengthAdjust="spacingAndGlyphs" >polyester</text>
<text x="854.8" y="651.5" font-size="27" textLength="101.6" lengthAdjust="spacingAndGlyphs" >diamond</text>
<text x="746.3" y="684.5" font-size="27" textLength="85.6" lengthAdjust="spacingAndGlyphs" >stitched</text>
<text x="839.5" y="684.5" font-size="27" textLength="85.4" lengthAdjust="spacingAndGlyphs" >backing</text>
<circle cx="205.7" cy="308" r="114.3" fill="#b3b3b3" stroke="#5a5a5a" stroke-width="0.8"/>
<g clip-path="url(#circ)"><g transform="translate(80,190) scale(0.25394)">
<path d="M20,425 L300,272 L392,465 L60,672 Z" fill="#23262f"/>
<path d="M420,205 L500,160 L600,348 L512,392 Z" fill="#23262f"/>
<path d="M482,166 Q492,146 515,152 L612,338 Q612,358 585,362" fill="none" stroke="#2e3137" stroke-width="15" stroke-linecap="round" stroke-linejoin="round"/>
<path d="M482,166 Q492,146 515,152 L612,338 Q612,358 585,362" fill="none" stroke="#63666d" stroke-width="10" stroke-linecap="round" stroke-linejoin="round"/>
<path d="M482,166 Q492,146 515,152 L612,338 Q612,358 585,362" fill="none" stroke="#b4b7bc" stroke-width="3" stroke-linecap="round" stroke-linejoin="round"/>
<path d="M528,138 Q540,118 562,128 L650,318 Q650,340 606,342" fill="none" stroke="#2e3137" stroke-width="15" stroke-linecap="round" stroke-linejoin="round"/>
<path d="M528,138 Q540,118 562,128 L650,318 Q650,340 606,342" fill="none" stroke="#63666d" stroke-width="10" stroke-linecap="round" stroke-linejoin="round"/>
<path d="M528,138 Q540,118 562,128 L650,318 Q650,340 606,342" fill="none" stroke="#b4b7bc" stroke-width="3" stroke-linecap="round" stroke-linejoin="round"/>
<path d="M290,240 Q300,225 400,188 L430,200 L512,385 L505,412 L402,470 Q385,475 375,455 L288,275 Z" fill="#15161b"/>
<path d="M362,208 L400,190 L425,200 L512,385 L495,420 L478,398 L404,232 L370,228 Z" fill="#7a7d84"/>
<path d="M404,232 L478,398 L495,420 L400,470 L322,300 Z" fill="#23262f"/>
<path d="M352,212 L400,190 L425,200 L405,208 L362,225 Z" fill="#b9bcc1"/>
<path d="M120,800 L400,630 L525,830 L380,930 L200,960 Z" fill="#23262f"/>
<path d="M316,702 L402,892" stroke="#2e323d" stroke-width="5"/>
<path d="M398,645 Q408,622 432,632 L545,800 Q548,822 505,840" fill="none" stroke="#2e3137" stroke-width="15" stroke-linecap="round" stroke-linejoin="round"/>
<path d="M398,645 Q408,622 432,632 L545,800 Q548,822 505,840" fill="none" stroke="#63666d" stroke-width="10" stroke-linecap="round" stroke-linejoin="round"/>
<path d="M398,645 Q408,622 432,632 L545,800 Q548,822 505,840" fill="none" stroke="#b4b7bc" stroke-width="3" stroke-linecap="round" stroke-linejoin="round"/>
<path d="M442,618 Q455,600 478,612 L570,790 Q572,812 522,820" fill="none" stroke="#2e3137" stroke-width="15" stroke-linecap="round" stroke-linejoin="round"/>
<path d="M442,618 Q455,600 478,612 L570,790 Q572,812 522,820" fill="none" stroke="#63666d" stroke-width="10" stroke-linecap="round" stroke-linejoin="round"/>
<path d="M442,618 Q455,600 478,612 L570,790 Q572,812 522,820" fill="none" stroke="#b4b7bc" stroke-width="3" stroke-linecap="round" stroke-linejoin="round"/>
</g></g>
<text x="186.1" y="328.2" font-size="25.3" textLength="117" lengthAdjust="spacingAndGlyphs">Adjustable</text>
<text x="216.8" y="358.6" font-size="25.3" textLength="56.5" lengthAdjust="spacingAndGlyphs">strap</text>
<g transform="translate(80,400) scale(0.25394)" stroke-linejoin="round">
<path d="M580,655 L940,630 L932,655 L300,1025 Q270,1000 235,955 Z" fill="#1a1c24" stroke="#2c303b" stroke-width="4"/>
<path d="M92,705 L210,652 L600,598 L925,538 L940,635 L580,664 L140,795 Z" fill="#1a1c24" stroke="#2c303b" stroke-width="4"/>
<path d="M700,318 L748,294 L792,372 L778,388 L520,527 L330,548 Z" fill="#1a1c24" stroke="#2c303b" stroke-width="4"/>
<path d="M688,118 L764,86 L818,166 L770,200 L228,549 L105,645 L62,552 Z" fill="#1a1c24" stroke="#2c303b" stroke-width="4"/>
<path d="M62,552 L228,547 L890,485 L925,540 L600,598 L105,645 Z" fill="#1a1c24" stroke="#2c303b" stroke-width="4"/>
<path d="M678,128 L735,96 L792,190 L732,218 Z" fill="#101116" stroke="#30343f" stroke-width="4"/>
<path d="M722,104 L778,196" stroke="#7a7d84" stroke-width="7"/>
<path d="M768,84 L800,70 L834,152 L806,168Z" fill="none" stroke="#2e3137" stroke-width="12" stroke-linecap="round" stroke-linejoin="round"/>
<path d="M768,84 L800,70 L834,152 L806,168Z" fill="none" stroke="#a9acb2" stroke-width="7" stroke-linecap="round" stroke-linejoin="round"/>
<path d="M742,292 L762,284 L798,368 L776,382Z" fill="none" stroke="#2e3137" stroke-width="12" stroke-linecap="round" stroke-linejoin="round"/>
<path d="M742,292 L762,284 L798,368 L776,382Z" fill="none" stroke="#a9acb2" stroke-width="7" stroke-linecap="round" stroke-linejoin="round"/>
<path d="M700,322 L768,392" stroke="#2e323d" stroke-width="5"/>
</g>
</svg></body></html>
